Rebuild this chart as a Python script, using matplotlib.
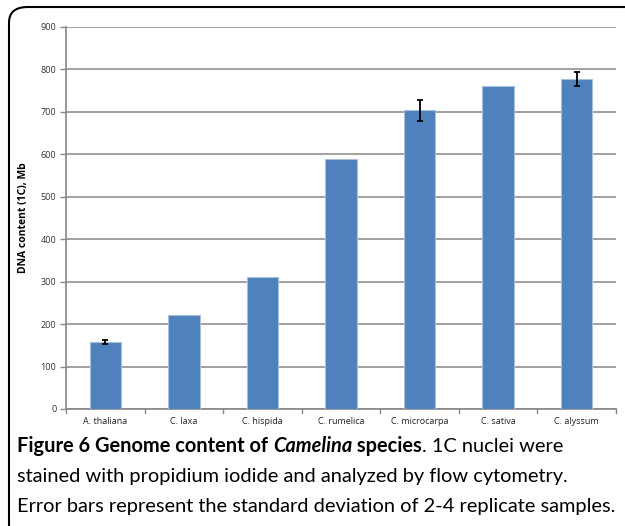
import matplotlib.pyplot as plt
from matplotlib.patches import FancyBboxPatch

# Genome size data (1C, Mb)
species = ['A. thaliana', 'C. laxa', 'C. hispida', 'C. rumelica',
           'C. microcarpa', 'C. sativa', 'C. alyssum']
dna_content = [157, 222, 311, 589, 704, 762, 778]
std_dev = [5, 0, 0, 0, 25, 0, 17]
y_ticks = [0, 100, 200, 300, 400, 500, 600, 700, 800, 900]

W, H = 625, 526
fig = plt.figure(figsize=(W / 100, H / 100), dpi=100)

# rounded frame around figure (left/top visible)
frame = FancyBboxPatch((9 / W, 1 - 540 / H), 640 / W, 533 / H,
                       boxstyle="round,pad=0,rounding_size=0.03",
                       transform=fig.transFigure, fill=False,
                       edgecolor='black', linewidth=1.5, clip_on=False)
fig.patches.append(frame)

ax = fig.add_axes([66 / W, 1 - 409 / H, 550 / W, 382 / H])

x = list(range(len(species)))
ax.bar(x, dna_content, width=0.4, color='#4F81BD', edgecolor='#A7C0DE',
       linewidth=0.8, zorder=3)
# error bars only where replicates gave a deviation
ex = [i for i, e in zip(x, std_dev) if e > 0]
ey = [v for v, e in zip(dna_content, std_dev) if e > 0]
ee = [e for e in std_dev if e > 0]
ax.errorbar(ex, ey, yerr=ee, fmt='none', ecolor='black', elinewidth=1.3,
            capsize=2.5, capthick=1.3, zorder=4)

ax.set_xlim(-0.5, len(species) - 0.5)
ax.set_ylim(0, 900)
ax.set_yticks(y_ticks)
ax.set_yticklabels([str(t) for t in y_ticks], fontsize=6.5, color='#333333',
                   family='Open Sans')
ax.set_xticks(x)
ax.set_xticklabels(species, fontsize=6.5, color='#222222', family='Open Sans')
ax.tick_params(axis='x', length=0, pad=6)
ax.tick_params(axis='y', length=4, color='#888888', width=1, pad=3)
# ticks between categories
for b in [i + 0.5 for i in range(-1, len(species))]:
    ax.plot([b, b], [0, -9], color='#888888', lw=1, clip_on=False, zorder=2)

ax.grid(axis='y', color='#999999', linewidth=1.3, zorder=0)
for s in ['top', 'right']:
    ax.spines[s].set_visible(False)
ax.spines['left'].set_color('#888888')
ax.spines['bottom'].set_color('#888888')
ax.spines['left'].set_linewidth(1.2)
ax.spines['bottom'].set_linewidth(1.2)

ax.set_ylabel('DNA content (1C), Mb', fontsize=7.5, fontweight='bold',
              family='Open Sans', labelpad=8)

# caption with mixed styles
fs = 14.4
fam = 'Lato'
fig.canvas.draw()
renderer = fig.canvas.get_renderer()
pieces = [('Figure 6 Genome content of ', 'bold', 'normal'),
          ('Camelina', 'bold', 'italic'),
          (' species', 'bold', 'normal'),
          ('. 1C nuclei were', 'normal', 'normal')]
xpos = 17
ypos = 1 - 452 / H
for txt, wt, st in pieces:
    t = fig.text(xpos / W, ypos, txt, fontsize=fs, fontweight=wt, style=st,
                 family=fam, ha='left', va='baseline')
    bb = t.get_window_extent(renderer=renderer)
    xpos = bb.x1
fig.text(17 / W, 1 - 482 / H, 'stained with propidium iodide and analyzed by flow cytometry.',
         fontsize=fs, family=fam, ha='left', va='baseline')
fig.text(17 / W, 1 - 512 / H, 'Error bars represent the standard deviation of 2-4 replicate samples.',
         fontsize=fs, family=fam, ha='left', va='baseline')

fig.savefig('out.png', dpi=100)
